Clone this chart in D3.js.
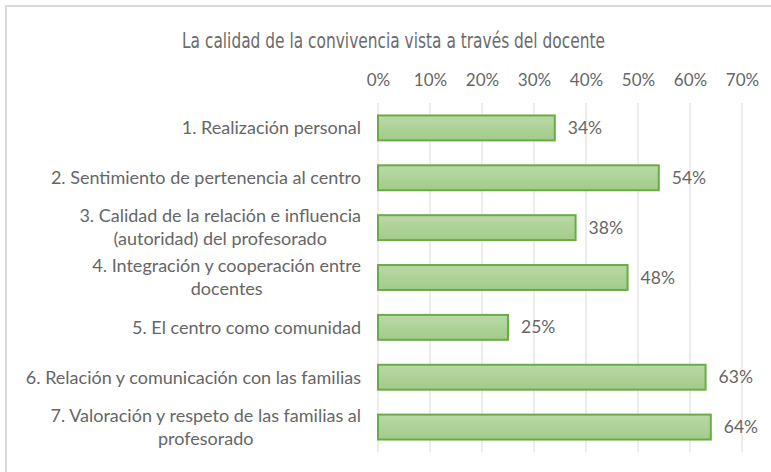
<!DOCTYPE html>
<html>
<head>
<meta charset="utf-8">
<script src="https://cdn.jsdelivr.net/npm/d3@7"></script>
<style>
  body { margin: 0; background: #fff; }
  svg { display: block; }
</style>
</head>
<body>
<div id="chart"></div>
<script>
// chart data
var title = "La calidad de la convivencia vista a través del docente";
var categories = [
  "1. Realización personal",
  "2. Sentimiento de pertenencia al centro",
  "3. Calidad de la relación e influencia\n(autoridad) del profesorado",
  "4. Integración y cooperación entre\ndocentes",
  "5. El centro como comunidad",
  "6. Relación y comunicación con las familias",
  "7. Valoración y respeto de las familias al\nprofesorado"
];
var values = [0.34, 0.54, 0.38, 0.48, 0.25, 0.63, 0.64];
var tickValues = [0, 0.1, 0.2, 0.3, 0.4, 0.5, 0.6, 0.7];

var svgWidth = 771;
var svgHeight = 472;
var margin = { top: 103, right: 28, bottom: 20, left: 378 };
var width = svgWidth - margin.left - margin.right;
var height = 452 - margin.top;

var svg = d3.select("#chart").append("svg")
  .attr("width", svgWidth)
  .attr("height", svgHeight);

// chart frame
svg.append("rect")
  .attr("x", 6).attr("y", 6)
  .attr("width", 800).attr("height", 500)
  .attr("fill", "none")
  .attr("stroke", "#d9d9d9")
  .attr("stroke-width", 2);

// bar gradient
var grad = svg.append("defs").append("linearGradient")
  .attr("id", "barFill")
  .attr("x1", 0).attr("y1", 0).attr("x2", 0).attr("y2", 1);
grad.append("stop").attr("offset", "0%").attr("stop-color", "#b9d9a6");
grad.append("stop").attr("offset", "100%").attr("stop-color", "#a2cb89");

// title (condensed look, squeezed to the reference width)
svg.append("text")
  .attr("x", 182)
  .attr("y", 48)
  .attr("textLength", 423)
  .attr("lengthAdjust", "spacingAndGlyphs")
  .style("font-family", "'DejaVu Sans Condensed', 'DejaVu Sans', sans-serif")
  .style("font-stretch", "condensed")
  .style("font-size", "21px")
  .style("fill", "#6b6b6b")
  .text(title);

var chartGroup = svg.append("g")
  .attr("transform", `translate(${margin.left}, ${margin.top})`);

// scales
var xLinearScale = d3.scaleLinear()
  .domain([0, 0.7])
  .range([0, 364]);

var yBandScale = d3.scaleBand()
  .domain(categories)
  .range([0, height])
  .paddingInner(0.5)
  .paddingOuter(0.25);

// gridlines
chartGroup.selectAll(".grid")
  .data(tickValues)
  .enter()
  .append("line")
  .attr("x1", d => xLinearScale(d))
  .attr("x2", d => xLinearScale(d))
  .attr("y1", 0)
  .attr("y2", height)
  .attr("stroke", "#d9d9d9")
  .attr("stroke-width", 1);

// top axis labels
var topAxis = d3.axisTop(xLinearScale)
  .tickValues(tickValues)
  .tickFormat(d3.format(".0%"))
  .tickSize(0)
  .tickPadding(17);

var xAxis = chartGroup.append("g").call(topAxis);
xAxis.select(".domain").remove();
xAxis.selectAll("text")
  .style("font-family", "Lato, 'Open Sans', sans-serif")
  .style("font-size", "17px")
  .style("fill", "#666666");

// bars
chartGroup.selectAll(".bar")
  .data(values)
  .enter()
  .append("rect")
  .attr("x", 0)
  .attr("y", (d, i) => yBandScale(categories[i]))
  .attr("width", d => xLinearScale(d))
  .attr("height", yBandScale.bandwidth())
  .attr("fill", "url(#barFill)")
  .attr("stroke", "#6aab47")
  .attr("stroke-width", 2);

// value labels
chartGroup.selectAll(".value")
  .data(values)
  .enter()
  .append("text")
  .attr("x", d => xLinearScale(d) + 13)
  .attr("y", (d, i) => yBandScale(categories[i]) + yBandScale.bandwidth() / 2)
  .attr("dy", "0.35em")
  .style("font-family", "Lato, 'Open Sans', sans-serif")
  .style("font-size", "17.5px")
  .style("fill", "#666666")
  .text(d => d3.format(".0%")(d));

// category labels, multi-line ones centred inside a right-aligned block
var labelRight = 361 - margin.left;
var lineHeight = 23;
categories.forEach(function(cat) {
  var lines = cat.split("\n");
  var cy = yBandScale(cat) + yBandScale.bandwidth() / 2;
  var g = chartGroup.append("g");
  var texts = lines.map(function(line, j) {
    return g.append("text")
      .attr("y", cy + (j - (lines.length - 1) / 2) * lineHeight)
      .attr("dy", "0.35em")
      .attr("text-anchor", "middle")
      .style("font-family", "Lato, 'Open Sans', sans-serif")
      .style("font-size", "18px")
      .style("fill", "#666666")
      .text(line);
  });
  var maxW = d3.max(texts, t => t.node().getComputedTextLength());
  texts.forEach(t => t.attr("x", labelRight - maxW / 2));
});
</script>
</body>
</html>
